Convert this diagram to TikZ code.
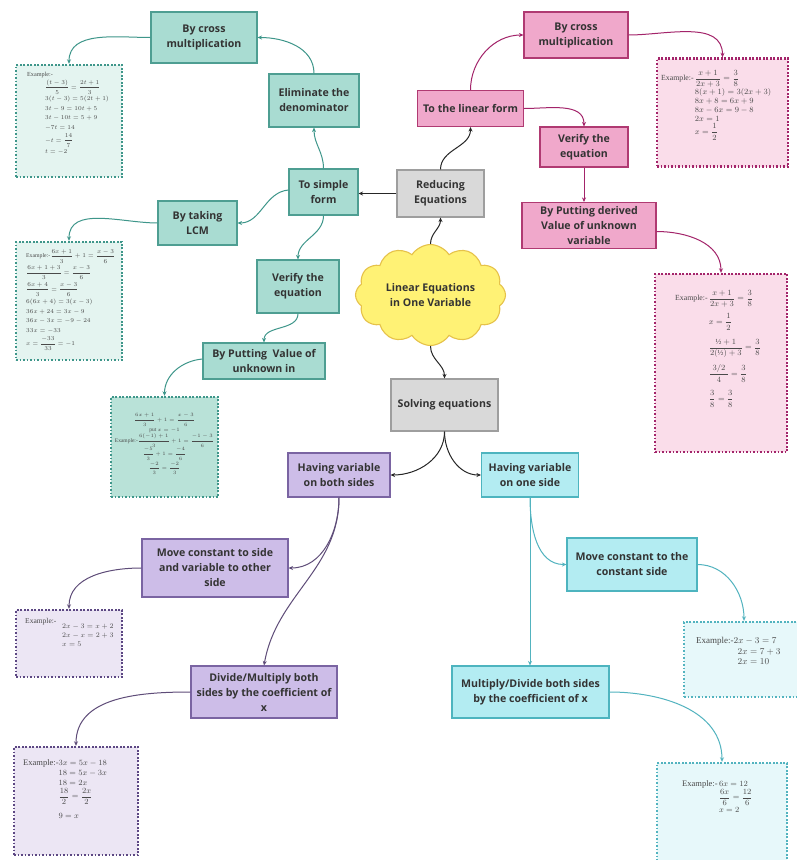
\documentclass[tikz,border=0pt]{standalone}
\usepackage{amsmath}
\usepackage{fontspec}
\newfontfamily\boxfont{Open Sans}
\setmainfont{Liberation Serif}
\usetikzlibrary{shapes.symbols,arrows.meta}
\definecolor{tealfill}{HTML}{A9DCD2}
\definecolor{tealline}{HTML}{4E9E92}
\definecolor{tealex}{HTML}{E4F4F0}
\definecolor{tealexdark}{HTML}{B9E2D8}
\definecolor{tealdot}{HTML}{3E968A}
\definecolor{pinkfill}{HTML}{F0A8CB}
\definecolor{pinkline}{HTML}{B03A72}
\definecolor{pinkex}{HTML}{FADDEA}
\definecolor{pinkdot}{HTML}{A3246A}
\definecolor{grayfill}{HTML}{D9D9D9}
\definecolor{grayline}{HTML}{9E9E9E}
\definecolor{cloudfill}{HTML}{FFF275}
\definecolor{cloudline}{HTML}{E6C24A}
\definecolor{purpfill}{HTML}{CDBDE8}
\definecolor{purpline}{HTML}{7A64A2}
\definecolor{purpex}{HTML}{ECE6F4}
\definecolor{purpdot}{HTML}{5C4783}
\definecolor{purpconn}{HTML}{5E4C78}
\definecolor{cyanfill}{HTML}{B3ECF2}
\definecolor{cyanline}{HTML}{4DB4BF}
\definecolor{cyanex}{HTML}{E7F8FA}
\definecolor{cyandot}{HTML}{52B3BF}
\definecolor{boxtext}{HTML}{333333}
\definecolor{extextcol}{HTML}{4A4A4A}
\tikzset{
  box/.style={draw, line width=1.1pt, align=center, inner sep=1pt,
    font=\boxfont\bfseries\fontsize{10.6}{15}\selectfont, text=boxtext},
  tbox/.style={box, fill=tealfill, draw=tealline},
  pbox/.style={box, fill=pinkfill, draw=pinkline},
  gbox/.style={box, fill=grayfill, draw=grayline},
  ubox/.style={box, fill=purpfill, draw=purpline},
  cbox/.style={box, fill=cyanfill, draw=cyanline},
  exbox/.style={line width=2.4pt, dash pattern=on 1.6pt off 1.9pt, inner sep=0pt},
  texbox/.style={exbox, fill=tealex, draw=tealdot},
  pexbox/.style={exbox, fill=pinkex, draw=pinkdot},
  uexbox/.style={exbox, fill=purpex, draw=purpdot},
  cexbox/.style={exbox, fill=cyanex, draw=cyandot},
  extext/.style={inner sep=0pt, align=left, text=extextcol},
  conn/.style={line width=1pt, -{Stealth[length=4.5pt,width=4pt]}},
  bconn/.style={conn, draw=black!85},
  tconn/.style={conn, draw=tealdot},
  pconn/.style={conn, draw=pinkdot},
  uconn/.style={conn, draw=purpconn},
  cconn/.style={conn, draw=cyandot},
}
\begin{document}
\begin{tikzpicture}[x=1pt,y=1pt]
\useasboundingbox (0,0) rectangle (796,-860);
\fill[white] (0,0) rectangle (796,-860);

% ---------- centre ----------
\node[cloud, cloud puffs=12, cloud puff arc=115, aspect=1.6, draw=cloudline, fill=cloudfill,
  line width=1.1pt, minimum width=150, minimum height=92, align=center,
  font=\boxfont\bfseries\fontsize{10.6}{15}\selectfont, text=boxtext] (cloud) at (430.5,-295) {Linear Equations\\in One Variable};
\node[gbox, minimum width=87, minimum height=47] (reduce) at (440.5,-193.5) {Reducing\\Equations};
\node[gbox, minimum width=107, minimum height=52] (solve) at (444.5,-405) {Solving equations};

% ---------- teal ----------
\node[tbox, minimum width=106, minimum height=51] (tcross) at (204,-37.5) {By cross\\multiplication};
\node[tbox, minimum width=90, minimum height=53] (telim) at (314,-100.5) {Eliminate the\\denominator};
\node[tbox, minimum width=69, minimum height=46] (tsimple) at (323.5,-192) {To simple\\form};
\node[tbox, minimum width=79, minimum height=44] (tlcm) at (197.5,-223) {By taking\\LCM};
\node[tbox, minimum width=82, minimum height=53] (tverify) at (298,-286.5) {Verify the\\equation};
\node[tbox, minimum width=122, minimum height=36] (tput) at (264,-361) {By Putting\ \ Value of\\unknown in};

\node[texbox, minimum width=106, minimum height=112] (tex1) at (69,-121) {};
\node[extext, anchor=north west, font=\fontsize{6.2}{9.5}\selectfont] (tex1t) at (27,-70) {\begin{tabular}{@{}l@{}}
Example:-\\
\hspace*{18pt}$\dfrac{(t-3)}{5}=\dfrac{2t+1}{3}$\\[2pt]
\hspace*{18pt}$3(t-3)=5(2t+1)$\\
\hspace*{18pt}$3t-9=10t+5$\\
\hspace*{18pt}$3t-10t=5+9$\\
\hspace*{18pt}$-7t=14$\\[1pt]
\hspace*{18pt}$-t=\dfrac{14}{7}$\\[1pt]
\hspace*{18pt}$t=-2$
\end{tabular}};

\node[texbox, minimum width=106, minimum height=118] (tex2) at (69,-301) {};
\node[extext, anchor=north west, font=\fontsize{5.8}{9.5}\selectfont] (tex2t) at (26,-249) {\begin{tabular}{@{}l@{}}
Example:-$\dfrac{6x+1}{3}+1=\dfrac{x-3}{6}$\\[5pt]
$\dfrac{6x+1+3}{3}=\dfrac{x-3}{6}$\\[5pt]
$\dfrac{6x+4}{3}=\dfrac{x-3}{6}$\\[3pt]
$6(6x+4)=3(x-3)$\\
$36x+24=3x-9$\\
$36x-3x=-9-24$\\
$33x=-33$\\[2pt]
$x=\dfrac{-33}{33}=-1$
\end{tabular}};

\node[texbox, fill=tealexdark, minimum width=107, minimum height=100] (tex3) at (164.5,-447) {};
\node[extext, font=\fontsize{5.5}{7.5}\selectfont] (tex3t) at (164.5,-444) {\begin{tabular}{@{}c@{}}
$\dfrac{6x+1}{3}+1=\dfrac{x-3}{6}$\\[1pt]
put $x=-1$\\
Example:-$\dfrac{6(-1)+1}{3}+1=\dfrac{-1-3}{6}$\\[3pt]
$\dfrac{-5}{3}+1=\dfrac{-4}{6}$\\[4pt]
$\dfrac{-2}{3}=\dfrac{-2}{3}$
\end{tabular}};

% ---------- pink ----------
\node[pbox, minimum width=104, minimum height=46] (pcross) at (576,-35) {By cross\\multiplication};
\node[pbox, minimum width=106, minimum height=36] (plinear) at (470.5,-108.5) {To the linear form};
\node[pbox, minimum width=88, minimum height=40] (pverify) at (584,-147) {Verify the\\equation};
\node[pbox, minimum width=134, minimum height=46] (pput) at (589,-225.5) {By Putting derived\\Value of unknown\\variable};

\node[pexbox, minimum width=131, minimum height=108] (pex1) at (722.5,-112.5) {};
\node[extext, anchor=north west, font=\fontsize{7.8}{9}\selectfont] (pex1t) at (661,-70) {\begin{tabular}{@{}l@{\,}l@{}}
Example:- & $\dfrac{x+1}{2x+3}=\dfrac{3}{8}$\\
 & $8(x+1)=3(2x+3)$\\
 & $8x+8=6x+9$\\
 & $8x-6x=9-8$\\
 & $2x=1$\\
 & $x=\dfrac{1}{2}$
\end{tabular}};

\node[pexbox, minimum width=132, minimum height=178] (pex2) at (721,-363) {};
\node[extext, anchor=north west, font=\fontsize{7.8}{9}\selectfont] (pex2t) at (675,-290) {\begin{tabular}{@{}l@{\,}l@{}}
Example:- & $\dfrac{x+1}{2x+3}=\dfrac{3}{8}$\\[10pt]
 & $x=\dfrac{1}{2}$\\[12pt]
 & $\dfrac{\text{½}+1}{2(\text{½})+3}=\dfrac{3}{8}$\\[12pt]
 & $\dfrac{\;3/2\;}{4}=\dfrac{3}{8}$\\[12pt]
 & $\dfrac{3}{8}=\dfrac{3}{8}$
\end{tabular}};

% ---------- purple ----------
\node[ubox, minimum width=102, minimum height=44] (uboth) at (339,-475) {Having variable\\on both sides};
\node[ubox, minimum width=146, minimum height=58] (umove) at (215,-568) {Move constant to side\\and variable to other\\side};
\node[ubox, minimum width=146, minimum height=52] (udiv) at (264,-692) {Divide/Multiply both\\sides by the coefficient of\\x};

\node[uexbox, minimum width=106, minimum height=67] (uex1) at (69,-643.5) {};
\node[extext, anchor=north west, font=\fontsize{7.5}{9}\selectfont] (uex1t) at (25,-617) {\begin{tabular}{@{}l@{}}
Example:-\\[-4pt]
\hspace*{37pt}$2x-3=x+2$\\
\hspace*{37pt}$2x-x=2+3$\\
\hspace*{37pt}$x=5$
\end{tabular}};

\node[uexbox, minimum width=124, minimum height=108] (uex2) at (76,-801) {};
\node[extext, anchor=north west, font=\fontsize{8.5}{10}\selectfont] (uex2t) at (23,-758) {\begin{tabular}{@{}l@{}l@{}}
Example:- & $3x=5x-18$\\
 & $18=5x-3x$\\
 & $18=2x$\\
 & $\dfrac{18}{2}=\dfrac{2x}{2}$\\[10pt]
 & $9=x$
\end{tabular}};

% ---------- cyan ----------
\node[cbox, minimum width=97, minimum height=44] (cone) at (530,-475) {Having variable\\on one side};
\node[cbox, minimum width=130, minimum height=53] (cmove) at (632,-564.5) {Move constant to the\\constant side};
\node[cbox, minimum width=157, minimum height=52] (cmult) at (530.5,-692) {Multiply/Divide both sides\\by the coefficient of x};

\node[cexbox, minimum width=120, minimum height=75] (cex1) at (744,-659.5) {};
\node[extext, anchor=north west, font=\fontsize{9}{10.5}\selectfont] (cex1t) at (696,-636) {\begin{tabular}{@{}l@{}l@{}}
Example:- & $2x-3=7$\\
 & \hspace*{4pt}$2x=7+3$\\
 & \hspace*{4pt}$2x=10$
\end{tabular}};

\node[cexbox, minimum width=130, minimum height=106] (cex2) at (722,-816) {};
\node[extext, anchor=north west, font=\fontsize{8.5}{10}\selectfont] (cex2t) at (682,-779) {\begin{tabular}{@{}l@{\,}l@{}}
Example:- & $6x=12$\\
 & $\dfrac{6x}{6}=\dfrac{12}{6}$\\
 & $x=2$
\end{tabular}};

% ---------- connectors: centre ----------
\draw[bconn] (cloud.north) to[out=90,in=-90] (reduce.south);
\draw[bconn] (reduce.west) -- (reduce.west -| tsimple.east);
\draw[bconn] (reduce.north) to[out=90,in=-90] (plinear.south);
\draw[bconn] (cloud.south) to[out=-90,in=90] (solve.north);
\draw[bconn] (solve.south) to[out=-90,in=0] (uboth.east);
\draw[bconn] (solve.south) to[out=-90,in=180] (cone.west);

% ---------- connectors: teal ----------
\draw[tconn] (tsimple.north) to[out=90,in=-90] (telim.south);
\draw[tconn] (telim.north) to[out=90,in=0] (tcross.east);
\draw[tconn] (tcross.west) to[out=180,in=90] (tex1.north);
\draw[tconn] ([yshift=2]tsimple.west) to[out=185,in=0] (tlcm.east);
\draw[tconn] (tlcm.west) to[out=180,in=90] (tex2.north);
\draw[tconn] (tsimple.south) to[out=-90,in=90] (tverify.north);
\draw[tconn] (tverify.south) to[out=-90,in=90] (tput.north);
\draw[tconn] ([yshift=2]tput.west) to[out=185,in=90] (tex3.north);

% ---------- connectors: pink ----------
\draw[pconn] (plinear.north) to[out=90,in=180] (pcross.west);
\draw[pconn] (pcross.east) to[out=0,in=90] (pex1.north);
\draw[pconn] (plinear.east) to[out=0,in=90] (pverify.north);
\draw[pconn] (pverify.south) -- (pverify.south |- pput.north);
\draw[pconn] ([yshift=-6]pput.east) to[out=0,in=90] (pex2.north);

% ---------- connectors: purple ----------
\draw[uconn] (uboth.south) to[out=-90,in=0] (umove.east);
\draw[uconn] (uboth.south) to[out=-90,in=80] (udiv.north);
\draw[uconn] (umove.west) to[out=180,in=90] (uex1.north);
\draw[uconn] (udiv.west) to[out=180,in=90] (uex2.north);

% ---------- connectors: cyan ----------
\draw[cconn] (cone.south) to[out=-90,in=180] (cmove.west);
\draw[cconn] (cone.south) -- (cone.south |- cmult.north);
\draw[cconn] (cmove.east) to[out=0,in=90] (cex1.north);
\draw[cconn] (cmult.east) to[out=0,in=90] (cex2.north);
\end{tikzpicture}
\end{document}
